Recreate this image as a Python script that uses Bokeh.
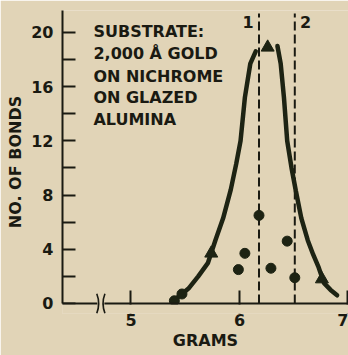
from bokeh.plotting import figure
from bokeh.models import Range1d, FixedTicker
from bokeh.core.properties import value
from bokeh.embed import file_html
from bokeh.resources import INLINE

# ---------------- data ----------------
CURVE_LEFT_X = [5.39, 5.47, 5.53, 5.62, 5.71, 5.78, 5.85, 5.92, 5.97, 6.01, 6.05, 6.10, 6.15]
CURVE_LEFT_Y = [0.2, 0.7, 1.1, 2.0, 3.0, 4.7, 6.3, 8.4, 10.3, 12.0, 15.2, 17.7, 18.6]
CURVE_RIGHT_X = [6.35, 6.38, 6.41, 6.44, 6.48, 6.52, 6.57, 6.63, 6.68, 6.73, 6.78, 6.84, 6.90]
CURVE_RIGHT_Y = [19.0, 17.7, 15.2, 12.0, 10.0, 8.3, 6.3, 4.65, 3.6, 2.66, 1.5, 1.0, 0.6]

CIRCLE_X = [5.40, 5.47, 5.99, 6.05, 6.18, 6.29, 6.44, 6.51]
CIRCLE_Y = [0.2, 0.7, 2.5, 3.7, 6.5, 2.6, 4.6, 1.9]

TRIANGLE_X = [5.74, 6.26, 6.76]
TRIANGLE_Y = [3.7, 18.9, 1.8]

DIVIDER_X = [6.18, 6.51]
DIVIDER_LABELS = ["1", "2"]

Y_TICKS = [0, 4, 8, 12, 16, 20]
Y_MINOR = [2, 6, 10, 14, 18]
X_TICKS = [5, 6, 7]

NOTE_LINES = ["SUBSTRATE:", "2,000 Å GOLD", "ON NICHROME", "ON GLAZED", "ALUMINA"]
NOTE_Y = [20.07, 18.45, 16.75, 15.2, 13.6]

BREAK_X = [4.69, 4.755]

# ---------------- styling ----------------
BG = "#e1d4b7"
INK = "#1a1a12"
CURVE = "#1d2313"
FONT = "DejaVu Sans"

X_MIN, X_MAX = 4.369, 7.005
Y_TOP = 21.62
Y_MIN = -0.74

p = figure(width=348, height=355,
           x_range=Range1d(X_MIN, X_MAX), y_range=Range1d(Y_MIN, Y_TOP),
           output_backend="svg", toolbar_location=None,
           min_border_left=62, min_border_right=0, min_border_top=10, min_border_bottom=42)

p.background_fill_color = BG
p.border_fill_color = BG
p.outline_line_color = None
p.grid.grid_line_color = None

# y axis
p.yaxis.ticker = FixedTicker(ticks=Y_TICKS, minor_ticks=Y_MINOR)
p.yaxis.bounds = (0, Y_TOP)
p.yaxis.axis_line_color = INK
p.yaxis.axis_line_width = 2
p.yaxis.major_tick_in = 13
p.yaxis.major_tick_out = 0
p.yaxis.minor_tick_in = 13
p.yaxis.minor_tick_out = 0
p.yaxis.major_tick_line_color = INK
p.yaxis.minor_tick_line_color = INK
p.yaxis.major_tick_line_width = 2
p.yaxis.minor_tick_line_width = 2
p.yaxis.major_label_standoff = 9
p.yaxis.major_label_text_font = FONT
p.yaxis.major_label_text_font_style = "bold"
p.yaxis.major_label_text_font_size = "16px"
p.yaxis.major_label_text_color = INK
p.yaxis.axis_label = "NO. OF BONDS"
p.yaxis.axis_label_text_font = FONT
p.yaxis.axis_label_text_font_style = "bold"
p.yaxis.axis_label_text_font_size = "16px"
p.yaxis.axis_label_text_color = INK
p.yaxis.axis_label_standoff = 3

# x axis (its line is drawn separately at y = 0, with the break)
p.xaxis.ticker = FixedTicker(ticks=X_TICKS, minor_ticks=[])
p.xaxis.axis_line_color = None
p.xaxis.major_tick_in = 23
p.xaxis.major_tick_out = 0
p.xaxis.major_tick_line_color = INK
p.xaxis.major_tick_line_width = 2
p.xaxis.minor_tick_line_color = None
p.xaxis.major_label_standoff = 0
p.xaxis.major_label_text_font = FONT
p.xaxis.major_label_text_font_style = "bold"
p.xaxis.major_label_text_font_size = "16px"
p.xaxis.major_label_text_color = INK
p.xaxis.axis_label = "GRAMS"
p.xaxis.axis_label_text_font = FONT
p.xaxis.axis_label_text_font_style = "bold"
p.xaxis.axis_label_text_font_size = "16px"
p.xaxis.axis_label_text_color = INK
p.xaxis.axis_label_standoff = 2

# dashed dividers
p.segment(x0=DIVIDER_X, y0=[0] * len(DIVIDER_X), x1=DIVIDER_X, y1=[21.4] * len(DIVIDER_X),
          line_color=INK, line_width=2, line_dash="9 4")
p.text(x=[DIVIDER_X[0] - 0.10, DIVIDER_X[1] + 0.10], y=[20.8, 20.8], text=DIVIDER_LABELS,
       text_font=value(FONT), text_font_style="bold", text_font_size="16px",
       text_color=INK, text_align="center", text_baseline="middle")

# fitted curve
p.line(CURVE_LEFT_X, CURVE_LEFT_Y, line_color=CURVE, line_width=4.5, line_cap="round")
p.line(CURVE_RIGHT_X, CURVE_RIGHT_Y, line_color=CURVE, line_width=4.5, line_cap="round")

# data points
p.scatter(CIRCLE_X, CIRCLE_Y, marker="circle", size=10, fill_color=CURVE, line_color=CURVE)
p.scatter(TRIANGLE_X, TRIANGLE_Y, marker="triangle", size=13, fill_color=CURVE, line_color=CURVE)

# note
p.text(x=[4.654] * len(NOTE_LINES), y=NOTE_Y, text=NOTE_LINES,
       text_font=value(FONT), text_font_style="bold", text_font_size="16px",
       text_color=INK, text_align="left", text_baseline="middle")

# area below the zero line: hide tick stubs, then draw the broken x axis line
p.quad(left=X_MIN, right=X_MAX, bottom=Y_MIN, top=-0.08, fill_color=BG,
       line_color=None, level="overlay")
gap_l, gap_r = BREAK_X
p.segment(x0=[X_MIN, gap_r], y0=[0, 0], x1=[gap_l, X_MAX], y1=[0, 0],
          line_color=INK, line_width=2, level="overlay")
p.bezier(x0=[gap_l - 0.005, gap_r + 0.005], y0=[0.72, 0.72],
         x1=[gap_l - 0.005, gap_r + 0.005], y1=[-0.72, -0.72],
         cx0=[gap_l + 0.02, gap_r - 0.02], cy0=[0.2, 0.2],
         cx1=[gap_l + 0.02, gap_r - 0.02], cy1=[-0.2, -0.2],
         line_color=INK, line_width=1.6, level="overlay")

open("out.html", "w").write(file_html(p, INLINE))
